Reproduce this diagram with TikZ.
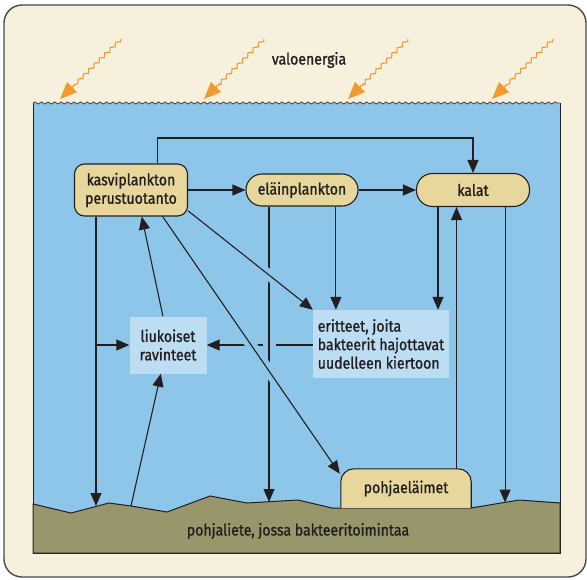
\documentclass[tikz,border=0pt]{standalone}
\usepackage{fontspec}
\setmainfont[FakeStretch=0.88, FakeBold=1.2]{Fira Sans}
\usepackage{tikz}
\usetikzlibrary{arrows.meta,decorations.pathmorphing,calc}

\definecolor{cream}{HTML}{F7F0DD}
\definecolor{frame}{HTML}{4A4A4A}
\definecolor{water}{HTML}{8EC6EA}
\definecolor{tan}{HTML}{E8D79C}
\definecolor{pale}{HTML}{BCDDF2}
\definecolor{mud}{HTML}{98966B}
\definecolor{ink}{HTML}{231F20}
\definecolor{sun}{HTML}{F39A2E}

\begin{document}
\begin{tikzpicture}[
    x=1pt, y=-1pt,
    every node/.style={
        font=\fontsize{16}{18.5}\selectfont,
        text=ink,
        inner sep=0pt
    },
    box/.style={draw=ink, fill=tan, line width=1.1pt, align=center},
    soft/.style={fill=pale, align=center},
    link/.style={draw=ink, line width=1.1pt, -{Triangle[length=13pt,width=11pt]}},
    halo/.style={preaction={draw=water, line width=#1, -, shorten <=8pt, shorten >=16pt}},
    ray/.style={draw=sun, line width=1.1pt, decorate,
        decoration={snake, amplitude=1.6pt, segment length=7.5pt, post length=20pt},
        -{Triangle[length=17pt,width=14pt]}}
]
\useasboundingbox (0,0) rectangle (587,579);

% Background
\draw[draw=frame, fill=cream, line width=1.4pt, rounded corners=18pt] (4,5) rectangle (586,577);

% Water
\fill[water] (33,103) rectangle (560,553);
\draw[frame, line width=0.9pt, decorate, decoration={snake, amplitude=1pt, segment length=6.5pt}] (33,103) -- (560,103);
\draw[ink, line width=1pt] (33,103) -- (33,553) -- (560,553) -- (560,103);

% Sediment
\draw[fill=mud, draw=ink, line width=1pt] (33,504) -- (71,513) -- (109,503) -- (131,506) -- (167,512)
    -- (210,496) -- (247,503) -- (298,500) -- (332,508) -- (471,508) -- (519,500) -- (560,503)
    -- (560,553) -- (33,553) -- cycle;
\coordinate (s4) at (131,506);
\coordinate (b1) at (96,506);
\coordinate (b2) at (269,502);
\coordinate (b3) at (504,502.5);
\coordinate (toprun) at (0,138);

% Light
\node (valo) at (309,60) {valoenergia};
\draw[ray] (121,39) -- (60,99);
\draw[ray] (264,39) -- (204,99);
\draw[ray] (408,39) -- (348,99);
\draw[ray] (553,39) -- (492,99);

% Nodes
\node[box, rounded corners=10pt, minimum width=113pt, minimum height=52pt] (kasvi) at (131,190) {kasviplankton\\perustuotanto};
\node[box, rounded corners=16pt, minimum width=112pt, minimum height=32pt] (elain) at (302,190) {eläinplankton};
\node[box, rounded corners=16pt, minimum width=113pt, minimum height=33pt] (kalat) at (473,190) {kalat};
\node[soft, minimum width=77pt, minimum height=57pt] (ravinteet) at (168,345) {liukoiset\\ravinteet};
\node[soft, minimum width=136pt, minimum height=68pt, align=left] (eritteet) at (381,344) {eritteet, joita\\bakteerit hajottavat\\uudelleen kiertoon};
\node[minimum width=130pt, minimum height=39pt] (pohjael) at (406,488.5) {};
\draw[box, rounded corners=13pt] (pohjael.south west) -- (pohjael.north west) -- (pohjael.north east) -- (pohjael.south east);
\node (pohjaelteksti) at (pohjael) {pohjaeläimet};
\node (liete) at (298,531) {pohjaliete, jossa bakteeritoimintaa};

% Connections
\draw[link] (kasvi) -- (elain);
\draw[link] (elain) -- (kalat);
\draw[link] (kasvi.45) -- (kasvi.45 |- toprun) -| (kalat.north);

\draw[link] (kasvi.south -| b1) -- (b1);
\draw[link] (b1 |- ravinteet.west) -- (ravinteet.west);
\draw[link] (eritteet.west |- ravinteet.east) -- (ravinteet.east);
\draw[link, halo=13pt] (elain.south -| b2) -- (b2);
\draw[link] (elain.-26) -- (elain.-26 |- eritteet.north);

\draw[link] (kalat.-154) -- (kalat.-154 |- eritteet.north);
\draw[link] (pohjael.north -| kalat.-134) -- (kalat.-134);
\draw[link] (kalat.-28) -- (kalat.-28 |- b3);

\draw[link] (ravinteet.100) -- (kasvi.-68);
\draw[link] (s4) -- (ravinteet.-104);
\draw[link, halo=11pt] (kasvi.-20) -- (eritteet.north west);
\draw[link, halo=11pt] (kasvi.-40) -- ($(pohjael.north west)+(-1,5)$);

\end{tikzpicture}
\end{document}
